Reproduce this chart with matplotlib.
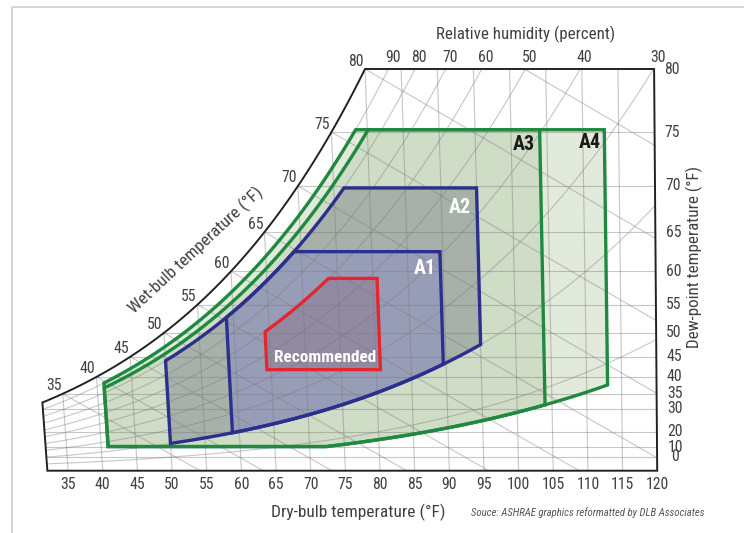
import numpy as np
import matplotlib.pyplot as plt
from collections import defaultdict
from matplotlib import font_manager
from matplotlib.patches import Polygon
from matplotlib.lines import Line2D

# pick a narrow sans family that also has a bold face, if one is installed
weights = defaultdict(set)
for f in font_manager.fontManager.ttflist:
    wt = f.weight if isinstance(f.weight, int) else font_manager.weight_dict.get(f.weight, 400)
    weights[f.name].add(wt)
narrow = [n for n in weights if ('Narrow' in n or 'Condensed' in n) and 'DejaVu' not in n]
with_bold = [n for n in narrow if 400 in weights[n] and max(weights[n]) >= 700]
pref = ['Liberation Sans Narrow', 'Roboto Condensed', 'Noto Sans Condensed', 'Open Sans Condensed']
FONT = next((p for p in pref if p in with_bold), None) or (sorted(with_bold) or sorted(narrow) or ['Liberation Sans'])[0]
BOLD_FONT = FONT if max(weights.get(FONT, {400})) >= 700 else 'Liberation Sans'
plt.rcParams['font.family'] = [FONT, 'DejaVu Sans']

# ---- chart values ----
db_labels = [35, 40, 45, 50, 55, 60, 65, 70, 75, 80, 85, 90, 95, 100, 105, 110, 115, 120]
db_grid = [35, 40, 45, 50, 55, 60, 65, 70, 75, 80, 85, 90, 95, 100, 105, 110, 115]
dp_labels = [0, 10, 20, 30, 35, 40, 45, 50, 55, 60, 65, 70, 75, 80]
rh_labels = [90, 80, 70, 60, 50, 40, 30]
rh_grid = [10, 20, 30, 40, 50, 60, 70, 80, 90]
wb_labels = [35, 40, 45, 50, 55, 60, 65, 70, 75, 80]
wb_grid = [35, 40, 45, 50, 55, 60, 65, 70, 75, 80, 85, 90]

# ASHRAE envelopes (dry bulb F, RH %, dew point F)
env_names = ['A4', 'A3', 'A2', 'A1', 'Recommended']
env_db_min = [41.0, 41.0, 50.0, 59.0, 64.4]
env_db_max = [113.0, 104.0, 95.0, 89.6, 80.6]
env_rh_min = [8, 8, 20, 20, 0]
env_rh_max = [90, 85, 80, 80, 60]
env_dp_min = [10.4, 10.4, -60.0, -60.0, 41.9]
env_dp_max = [75.2, 75.2, 69.8, 62.6, 59.0]
env_fill = ['#e2eadc', '#cfdcc6', '#a7b1a9', '#979db7', '#928aa3']
env_edge = ['#1f8a3f', '#1f8a3f', '#2b2f8e', '#2b2f8e', '#e5262c']

P = 14.696


def pws(t):
    t = np.asarray(t, float)
    T = t + 459.67
    water = np.exp(-1.0440397e4 / T - 11.29465 - 2.7022355e-2 * T + 1.289036e-5 * T**2
                   - 2.4780681e-9 * T**3 + 6.5459673 * np.log(T))
    ice = np.exp(-1.0214165e4 / T - 4.8932428 - 5.3765794e-3 * T + 1.9202377e-7 * T**2
                 + 3.5575832e-10 * T**3 - 9.0344688e-14 * T**4 + 4.1635019 * np.log(T))
    return np.where(t >= 32, water, ice)


def hum(pw):
    return 0.621945 * pw / (P - pw)


def w_rh(t, rh):
    return hum(rh / 100.0 * pws(t))


def w_dp(td):
    return hum(pws(td))


def w_wb(t, twb):
    ws = w_rh(twb, 100)
    return ((1093 - 0.556 * twb) * ws - 0.240 * (t - twb)) / (1093 + 0.444 * t - twb)


def xp(t, w):
    # dry-bulb lines lean a little, like on the ASHRAE chart
    t = np.asarray(t, float)
    return t - (190 - 1.93 * (t - 32)) * np.asarray(w, float)


W_TOP = float(w_dp(80))

fig = plt.figure(figsize=(7.44, 5.33), dpi=100)
ax = fig.add_axes([0, 0, 1, 1])
ax.set_xlim(80 - 380 / 6.93, 80 + 364 / 6.93)
ax.set_ylim(W_TOP - 464 / 18063, W_TOP + 69 / 18063)
ax.axis('off')
renderer = fig.canvas.get_renderer()


def fit(txt, target):
    # scale a text so its unrotated width matches the reference, in pixels
    rot = txt.get_rotation()
    txt.set_rotation(0)
    w = txt.get_window_extent(renderer).width
    txt.set_fontsize(txt.get_fontsize() * target / w)
    txt.set_rotation(rot)
    return txt.get_fontsize()


# panel frame
fig.add_artist(Line2D([12 / 744, 12 / 744, 1], [0, 1 - 7 / 533, 1 - 7 / 533],
                      color='#cfcfcf', lw=1.2))

# chart outline
ts = np.linspace(32, 80, 200)
ws = w_rh(ts, 100)
oT = np.concatenate([[32, 120, 120], ts[::-1]])
oW = np.concatenate([[0, 0, W_TOP], ws[::-1]])
outline = Polygon(np.column_stack([xp(oT, oW), oW]), closed=True, fill=False,
                  ec='#222222', lw=1.4, zorder=6)
ax.add_patch(outline)

# envelope fills
polys = []
for i in range(len(env_names)):
    t = np.linspace(env_db_min[i], env_db_max[i], 800)
    lo = np.maximum(w_dp(env_dp_min[i]), w_rh(t, env_rh_min[i]))
    hi = np.minimum(w_dp(env_dp_max[i]), w_rh(t, env_rh_max[i]))
    T = np.concatenate([t, t[::-1]])
    W = np.concatenate([lo, hi[::-1]])
    polys.append(np.column_stack([xp(T, W), W]))
    ax.add_patch(Polygon(polys[-1], closed=True, fc=env_fill[i], ec='none', zorder=2))

# grid lines
gkw = dict(color='#7a7a7a', lw=0.8, alpha=0.42, zorder=3)
grid = []
for t in db_grid:
    wt = min(float(w_rh(t, 100)), W_TOP)
    grid += ax.plot(xp([t, t], [0, wt]), [0, wt], **gkw)
for d in dp_labels[:-1]:
    w = float(w_dp(d))
    t0 = max(d, 32)
    grid += ax.plot(xp([t0, 120], [w, w]), [w, w], **gkw)
tt = np.linspace(32, 120, 400)
for rh in rh_grid:
    w = w_rh(tt, rh)
    grid += ax.plot(xp(tt, w), w, **gkw)
for wb in wb_grid:
    t = np.linspace(wb, 200, 400)
    w = w_wb(t, wb)
    grid += ax.plot(xp(t, w), w, **gkw)
for g in grid:
    g.set_clip_path(outline)

# envelope outlines
for i in range(len(env_names)):
    ax.add_patch(Polygon(polys[i], closed=True, fill=False, ec=env_edge[i],
                         lw=2.4, joinstyle='miter', zorder=5))

tc = '#404040'
tkw = dict(ha='center', va='center', color=tc)
probe = fig.text(0, 0, '120', fontsize=10)
TICK = fit(probe, 23)
probe.remove()

# dry-bulb labels
for t in db_labels:
    ax.annotate(str(t), (xp(t, 0), 0), xytext=(0, -14), textcoords='offset pixels',
                fontsize=TICK, **tkw)
# dew-point labels
for d in dp_labels:
    w = float(w_dp(d))
    ax.annotate(str(d), (xp(120, w), w), xytext=(18, 0), textcoords='offset pixels',
                fontsize=TICK, **tkw)
# relative humidity labels along the top
tg = np.linspace(60, 140, 4000)
for rh in rh_labels:
    tc_rh = np.interp(W_TOP, w_rh(tg, rh), tg)
    ax.annotate(str(rh), (xp(tc_rh, W_TOP) + 0.6, W_TOP), xytext=(0, 11),
                textcoords='offset pixels', fontsize=TICK, **tkw)
# wet-bulb labels on the saturation curve
for wb in wb_labels:
    w = float(w_rh(wb, 100))
    ax.annotate(str(wb), (xp(wb, w), w), xytext=(-9, 8), textcoords='offset pixels',
                fontsize=TICK, **tkw)

# envelope names
bkw = dict(family=[BOLD_FONT, 'DejaVu Sans'], fontweight='bold', ha='center', va='center')
a1 = fig.text(425 / 744, 1 - 268 / 533, 'A1', color='white', fontsize=13, **bkw)
a2 = fig.text(460 / 744, 1 - 207 / 533, 'A2', color='white', fontsize=13, **bkw)
a3 = fig.text(524 / 744, 1 - 145 / 533, 'A3', color='#1a1a1a', fontsize=13, **bkw)
a4 = fig.text(590 / 744, 1 - 142 / 533, 'A4', color='#1a1a1a', fontsize=13, **bkw)
for a in (a1, a2, a3, a4):
    fit(a, 22)
rec = fig.text(325 / 744, 1 - 357 / 533, 'Recommended', color='white', fontsize=10, **bkw)
fit(rec, 102)

# axis titles
fit(fig.text(358 / 744, 1 - 512 / 533, 'Dry-bulb temperature (°F)', fontsize=12, **tkw), 173)
fit(fig.text(526 / 744, 1 - 34 / 533, 'Relative humidity (percent)', fontsize=12, **tkw), 178)
fit(fig.text(694 / 744, 1 - 257 / 533, 'Dew-point temperature (°F)', fontsize=12,
             rotation=90, **tkw), 182)
fit(fig.text(196 / 744, 1 - 250 / 533, 'Wet-bulb temperature (°F)', fontsize=12,
             rotation=43, **tkw), 176)
fit(fig.text(588 / 744, 1 - 513 / 533, 'Souce: ASHRAE graphics reformatted by DLB Associates',
             fontsize=7, color='#555555', style='italic', ha='center', va='center'), 233)

fig.savefig('out.png', dpi=100)
